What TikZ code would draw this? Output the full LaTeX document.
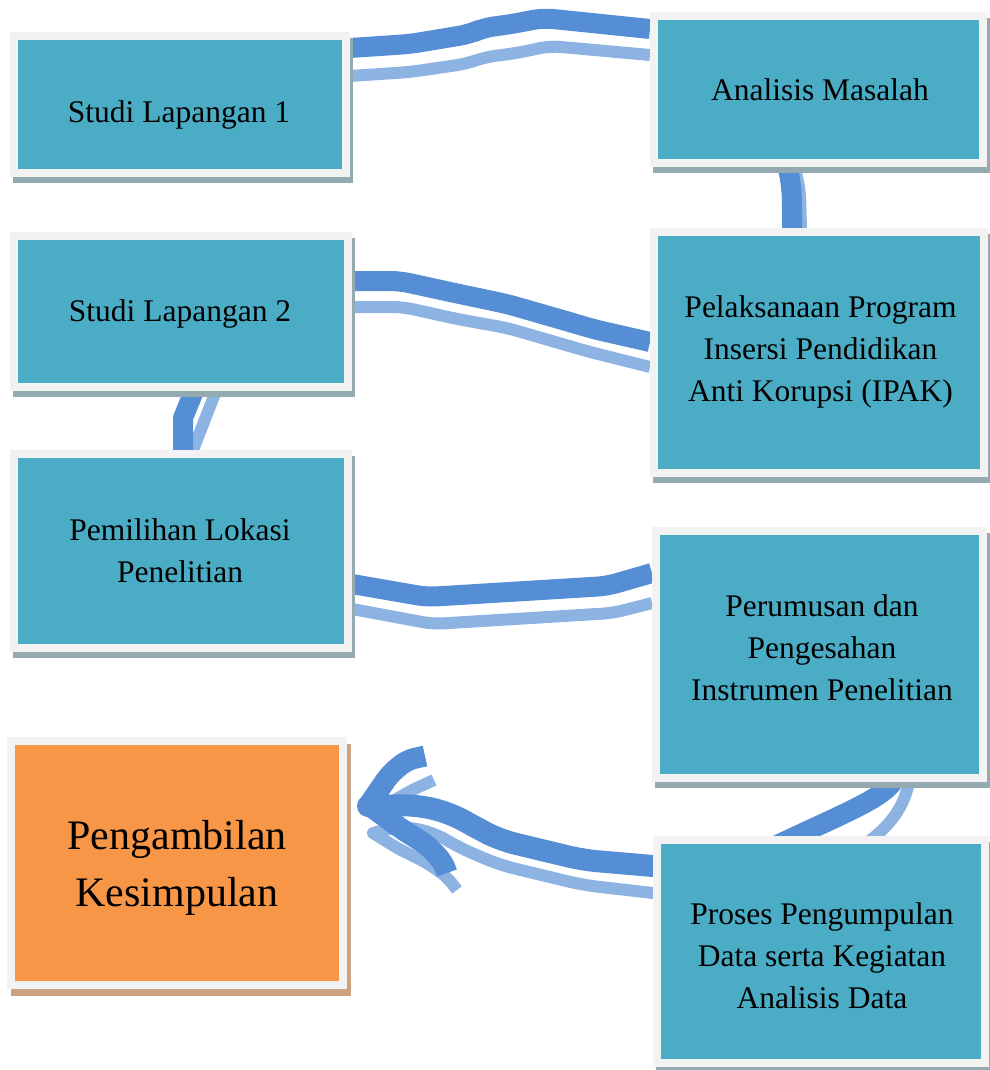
\documentclass[tikz,border=0pt]{standalone}
\usepackage{fontspec}
\setmainfont{Liberation Serif}
\usetikzlibrary{calc}
\definecolor{tealbox}{HTML}{4BACC6}
\definecolor{framec}{HTML}{F2F2F2}
\definecolor{shadowc}{HTML}{92AAB0}
\definecolor{orangebox}{HTML}{F79646}
\definecolor{oshadow}{HTML}{CAA282}
\definecolor{darkline}{HTML}{558ED5}
\definecolor{lightline}{HTML}{8DB3E2}
\pgfdeclarelayer{bg}
\pgfsetlayers{bg,main}
\begin{document}
\begin{tikzpicture}[x=1pt,y=-1pt,
  boxbase/.style={rectangle, inner sep=0pt, line width=8pt, draw=framec},
  tbox/.style={boxbase, fill=tealbox,
    preaction={draw=shadowc, fill=shadowc, line width=8pt, transform canvas={xshift=3pt,yshift=-6pt}}},
  obox/.style={boxbase, fill=orangebox,
    preaction={draw=oshadow, fill=oshadow, line width=8pt, transform canvas={xshift=4pt,yshift=-7pt}}},
  txt/.style={inner sep=0pt, align=center, text=black, font=\fontsize{31.5}{42}\selectfont},
  bigtxt/.style={inner sep=0pt, align=center, text=black, font=\fontsize{42}{57}\selectfont},
  dk/.style={draw=darkline, line width=20pt, line join=round, rounded corners=10pt},
  lt/.style={draw=lightline, line width=12pt, line join=round, rounded corners=10pt}]
\useasboundingbox (0,0) rectangle (989,1070);

% boxes
\node[tbox, minimum width=332pt, minimum height=137pt] (sl1) at (180,104.5) {};
\node[tbox, minimum width=329pt, minimum height=147pt] (am) at (818.5,89.5) {};
\node[tbox, minimum width=334pt, minimum height=151pt] (sl2) at (181,311.5) {};
\node[tbox, minimum width=330pt, minimum height=241pt] (pel) at (819,352.5) {};
\node[tbox, minimum width=334pt, minimum height=194pt] (pem) at (181,551) {};
\node[tbox, minimum width=327pt, minimum height=247pt] (per) at (819.5,654.5) {};
\node[tbox, minimum width=328pt, minimum height=223pt] (pro) at (821,951.5) {};
\node[obox, minimum width=332pt, minimum height=244pt] (pk) at (177,863) {};

% texts
\node[txt, anchor=base] (tsl1) at (179,122) {Studi Lapangan 1};
\node[txt, anchor=base] (tam) at (820,101) {Analisis Masalah};
\node[txt, anchor=base] (tsl2) at (180,321) {Studi Lapangan 2};
\node[txt] (tpel) at (820.5,351.6) {Pelaksanaan Program\\Insersi Pendidikan\\Anti Korupsi (IPAK)};
\node[txt] (tpem) at (180,551) {Pemilihan Lokasi\\Penelitian};
\node[txt] (tper) at (822,647.7) {Perumusan dan\\Pengesahan\\Instrumen Penelitian};
\node[txt] (tpro) at (822,956.2) {Proses Pengumpulan\\Data serta Kegiatan\\Analisis Data};
\node[bigtxt] (tpk) at (177,868) {Pengambilan\\Kesimpulan};

\coordinate (tip) at ($(pk.east)+(21,-57)$);

\begin{pgfonlayer}{bg}
% Studi Lapangan 1 -> Analisis Masalah
\draw[lt] (sl1.east |- 0,76) -- (410,72) -- (465,64) -- (486,57) -- (517,53) -- (550,46) -- (am.west |- 0,55);
\draw[dk] (sl1.east |- 0,48) -- (410,44) -- (470,34) -- (483,28) -- (512,24) -- (543,18) -- (am.west |- 0,29);
% Analisis Masalah -> Pelaksanaan
\draw[lt] ($(am.south)+(-23,4)$) -- (800,190) -- ($(pel.north)+(-18,2)$);
\draw[dk] ($(am.south)+(-31,0)$) -- (791,183) -- (792,200) -- ($(pel.north)+(-27,2)$);
% Studi Lapangan 2 -> Pelaksanaan
\draw[lt] (sl2.east |- 0,307) -- (403,307) -- (457,319) -- (507,328) -- (590,352) -- (pel.west |- 0,367);
\draw[dk] (sl2.east |- 0,281) -- (400,281) -- (450,292) -- (507,304) -- (573,323) -- (593,329) -- (pel.west |- 0,342);
% Studi Lapangan 2 -- Pemilihan Lokasi
\draw[lt, rounded corners=0pt] ($(sl2.south)+(35,0)$) -- ($(pem.north)+(12,0)$);
\draw[dk, rounded corners=0pt] ($(sl2.south)+(13,0)$) -- (183,418) -- ($(pem.north)+(2,0)$);
% Pemilihan Lokasi -> Perumusan
\draw[lt] (pem.east |- 0,609) -- (433,624) -- (613,613) -- (per.west |- 0,603);
\draw[dk] (pem.east |- 0,584) -- (427,597) -- (607,586) -- (per.west |- 0,573);
% Perumusan -> Proses
\draw[lt] ($(per.south)+(89.5,0)$) .. controls (905,802) and (895,822) .. ($(pro.north)+(47,6)$);
\draw[dk] ($(per.south)+(73.5,0)$) .. controls (880,800) and (840,815) .. ($(pro.north)+(-46,10)$);
% Proses -> Pengambilan Kesimpulan
\draw[lt, line cap=round, rounded corners=15pt] (pro.west |- 0,893) -- (583,885) -- (500,865) -- (460,848) -- (433,832) -- (400,826) -- ($(tip)+(5,27)$);
\draw[lt, rounded corners=8pt] ($(tip)+(5,27)$) -- (397,848) -- (427,863) -- (447,877) -- (457,890);
\draw[lt, rounded corners=8pt] (395,800) -- (412,790) -- (434,780);
\draw[dk, line width=22pt, line cap=round, rounded corners=15pt] (pro.west |- 0,866) -- (583,860) -- (500,840) -- (477,828) -- (450,813) -- (417,805) -- (tip);
\draw[dk, line width=21pt, rounded corners=8pt] (tip) -- (390,774) -- (407,760) -- (425,756);
\draw[dk, line width=21pt, rounded corners=8pt] ($(tip)+(2,0)$) -- (403,830) -- (427,845) -- (443,862) -- (447,873);
\end{pgfonlayer}
\end{tikzpicture}
\end{document}
